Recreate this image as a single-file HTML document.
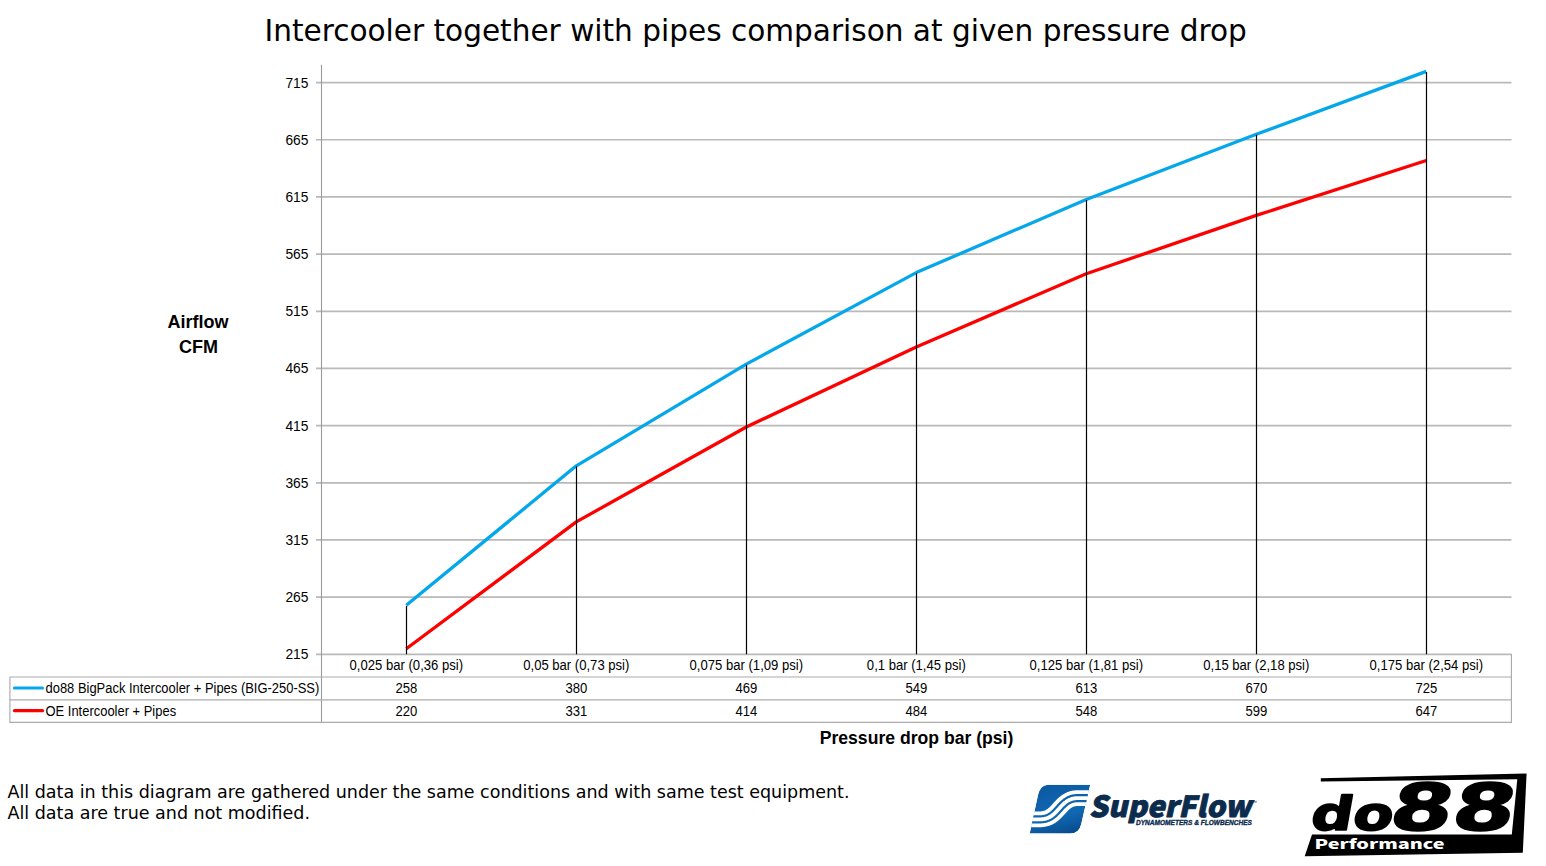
<!DOCTYPE html>
<html><head><meta charset="utf-8"><title>Intercooler comparison</title>
<style>
html,body{margin:0;padding:0;background:#fff;}
body{width:1546px;height:866px;overflow:hidden;position:relative;}
svg{position:absolute;left:0;top:0;}
.g{stroke:#b9b9b9;stroke-width:1.7;}
.ax0{stroke:#9a9a9a;stroke-width:1.1;}
.t{stroke:#ababab;stroke-width:1.15;}
.d{stroke:#000;stroke-width:1.2;}
.sb{fill:none;stroke:#04a8ea;stroke-width:3.3;stroke-linejoin:round;}
.sr{fill:none;stroke:#ff0000;stroke-width:3.3;stroke-linejoin:round;}
.yl,.c,.lg,.ax,.ax2{font-family:"Liberation Sans",Arial,sans-serif;fill:#000;}
.yl{font-size:13.8px;text-anchor:end;}
.c{font-size:13.1px;text-anchor:middle;}
.lg{font-size:12.95px;}
.title{font-family:"DejaVu Sans",Verdana,sans-serif;font-size:29.55px;fill:#000;}
.ax{font-size:18px;font-weight:bold;}
.ax2{font-size:17.6px;font-weight:bold;}
.note{font-family:"DejaVu Sans",Verdana,sans-serif;font-size:17.5px;fill:#000;}
</style></head><body>
<svg width="1546" height="866" viewBox="0 0 1546 866">
<line x1="316" x2="1511.5" y1="654.30" y2="654.30" class="g"/>
<text transform="matrix(1,0,0,1.05,308.4,659.30)" class="yl">215</text>
<line x1="316" x2="1511.5" y1="597.13" y2="597.13" class="g"/>
<text transform="matrix(1,0,0,1.05,308.4,602.13)" class="yl">265</text>
<line x1="316" x2="1511.5" y1="539.96" y2="539.96" class="g"/>
<text transform="matrix(1,0,0,1.05,308.4,544.96)" class="yl">315</text>
<line x1="316" x2="1511.5" y1="482.79" y2="482.79" class="g"/>
<text transform="matrix(1,0,0,1.05,308.4,487.79)" class="yl">365</text>
<line x1="316" x2="1511.5" y1="425.62" y2="425.62" class="g"/>
<text transform="matrix(1,0,0,1.05,308.4,430.62)" class="yl">415</text>
<line x1="316" x2="1511.5" y1="368.45" y2="368.45" class="g"/>
<text transform="matrix(1,0,0,1.05,308.4,373.45)" class="yl">465</text>
<line x1="316" x2="1511.5" y1="311.28" y2="311.28" class="g"/>
<text transform="matrix(1,0,0,1.05,308.4,316.28)" class="yl">515</text>
<line x1="316" x2="1511.5" y1="254.11" y2="254.11" class="g"/>
<text transform="matrix(1,0,0,1.05,308.4,259.11)" class="yl">565</text>
<line x1="316" x2="1511.5" y1="196.94" y2="196.94" class="g"/>
<text transform="matrix(1,0,0,1.05,308.4,201.94)" class="yl">615</text>
<line x1="316" x2="1511.5" y1="139.77" y2="139.77" class="g"/>
<text transform="matrix(1,0,0,1.05,308.4,144.77)" class="yl">665</text>
<line x1="316" x2="1511.5" y1="82.60" y2="82.60" class="g"/>
<text transform="matrix(1,0,0,1.05,308.4,87.60)" class="yl">715</text>
<line x1="321.5" x2="321.5" y1="64.8" y2="722.5" class="ax0"/>
<line x1="9.9" x2="1511.4" y1="677" y2="677" class="t"/>
<line x1="9.9" x2="1511.4" y1="699.8" y2="699.8" class="t"/>
<path d="M9.9,677 V722.4 H1511.4 V654" fill="none" class="t"/>
<polyline points="406.3,648.78 576.3,521.87 746.3,426.96 916.3,346.93 1086.3,273.75 1256.3,215.43 1426.3,160.55" class="sr"/>
<polyline points="406.3,605.33 576.3,465.84 746.3,364.08 916.3,272.60 1086.3,199.43 1256.3,134.25 1426.3,71.37" class="sb"/>
<line x1="406.5" x2="406.5" y1="605.93" y2="654.3" class="d"/>
<line x1="576.5" x2="576.5" y1="466.44" y2="654.3" class="d"/>
<line x1="746.5" x2="746.5" y1="364.68" y2="654.3" class="d"/>
<line x1="916.5" x2="916.5" y1="273.20" y2="654.3" class="d"/>
<line x1="1086.5" x2="1086.5" y1="200.03" y2="654.3" class="d"/>
<line x1="1256.5" x2="1256.5" y1="134.85" y2="654.3" class="d"/>
<line x1="1426.5" x2="1426.5" y1="71.97" y2="654.3" class="d"/>
<text transform="matrix(1,0,0,1.07,406.3,670)" class="c">0,025 bar (0,36 psi)</text>
<text transform="matrix(1,0,0,1.07,406.3,692.8)" class="c">258</text>
<text transform="matrix(1,0,0,1.07,406.3,715.6)" class="c">220</text>
<text transform="matrix(1,0,0,1.07,576.3,670)" class="c">0,05 bar (0,73 psi)</text>
<text transform="matrix(1,0,0,1.07,576.3,692.8)" class="c">380</text>
<text transform="matrix(1,0,0,1.07,576.3,715.6)" class="c">331</text>
<text transform="matrix(1,0,0,1.07,746.3,670)" class="c">0,075 bar (1,09 psi)</text>
<text transform="matrix(1,0,0,1.07,746.3,692.8)" class="c">469</text>
<text transform="matrix(1,0,0,1.07,746.3,715.6)" class="c">414</text>
<text transform="matrix(1,0,0,1.07,916.3,670)" class="c">0,1 bar (1,45 psi)</text>
<text transform="matrix(1,0,0,1.07,916.3,692.8)" class="c">549</text>
<text transform="matrix(1,0,0,1.07,916.3,715.6)" class="c">484</text>
<text transform="matrix(1,0,0,1.07,1086.3,670)" class="c">0,125 bar (1,81 psi)</text>
<text transform="matrix(1,0,0,1.07,1086.3,692.8)" class="c">613</text>
<text transform="matrix(1,0,0,1.07,1086.3,715.6)" class="c">548</text>
<text transform="matrix(1,0,0,1.07,1256.3,670)" class="c">0,15 bar (2,18 psi)</text>
<text transform="matrix(1,0,0,1.07,1256.3,692.8)" class="c">670</text>
<text transform="matrix(1,0,0,1.07,1256.3,715.6)" class="c">599</text>
<text transform="matrix(1,0,0,1.07,1426.3,670)" class="c">0,175 bar (2,54 psi)</text>
<text transform="matrix(1,0,0,1.07,1426.3,692.8)" class="c">725</text>
<text transform="matrix(1,0,0,1.07,1426.3,715.6)" class="c">647</text>
<line x1="14.5" x2="42.5" y1="688" y2="688" stroke="#04a8ea" stroke-width="3.2" stroke-linecap="round"/>
<line x1="14.5" x2="42.5" y1="710.7" y2="710.7" stroke="#ff0000" stroke-width="3.2" stroke-linecap="round"/>
<text transform="matrix(1,0,0,1.07,45.5,692.6)" class="lg">do88 BigPack Intercooler + Pipes (BIG-250-SS)</text>
<text transform="matrix(1,0,0,1.07,45.5,715.5)" class="lg">OE Intercooler + Pipes</text>
<text x="264.5" y="41" class="title">Intercooler together with pipes comparison at given pressure drop</text>
<text x="198" y="328" class="ax" text-anchor="middle">Airflow</text>
<text x="198.5" y="353" class="ax" text-anchor="middle">CFM</text>
<text x="916.5" y="744.3" class="ax2" text-anchor="middle">Pressure drop bar (psi)</text>
<text x="7.5" y="797.6" class="note">All data in this diagram are gathered under the same conditions and with same test equipment.</text>
<text x="7.5" y="818.6" class="note">All data are true and not modified.</text>
<defs>
<linearGradient id="sfg" gradientUnits="userSpaceOnUse" x1="1050" y1="784" x2="1062" y2="834">
<stop offset="0" stop-color="#0b5aa3"/>
<stop offset="0.65" stop-color="#1068b1"/>
<stop offset="1" stop-color="#0a4d90"/>
</linearGradient>
<clipPath id="sfc"><path d="M1045,784.7 L1090.2,784.7 L1081.5,823 Q1079.5,833.6 1070,833.6 L1029.7,833.6 L1038,795 Q1040.5,784.7 1048,784.7 Z"/></clipPath>
</defs>
<g id="superflow">
<g clip-path="url(#sfc)">
<path d="M1045,784.7 L1090.2,784.7 L1081.5,823 Q1079.5,833.6 1070,833.6 L1029.7,833.6 L1038,795 Q1040.5,784.7 1048,784.7 Z" fill="url(#sfg)"/>
<path d="M1017.00,819.30 L1040.00,819.30 L1040.95,819.28 L1041.87,819.23 L1042.76,819.14 L1043.61,819.02 L1044.44,818.87 L1045.25,818.69 L1046.02,818.48 L1046.78,818.24 L1047.50,817.97 L1048.21,817.68 L1048.89,817.36 L1049.55,817.03 L1050.20,816.67 L1050.82,816.29 L1051.43,815.89 L1052.02,815.47 L1052.60,815.03 L1053.16,814.58 L1053.71,814.12 L1054.25,813.64 L1054.78,813.15 L1055.30,812.66 L1055.81,812.15 L1056.31,811.63 L1056.81,811.11 L1057.30,810.58 L1057.79,810.04 L1058.27,809.51 L1058.76,808.97 L1059.24,808.43 L1059.73,807.89 L1060.21,807.36 L1060.70,806.82 L1061.19,806.29 L1061.69,805.77 L1062.19,805.25 L1062.70,804.74 L1063.22,804.25 L1063.75,803.76 L1064.29,803.28 L1064.84,802.82 L1065.40,802.37 L1065.98,801.93 L1066.57,801.51 L1067.18,801.11 L1067.80,800.73 L1068.45,800.37 L1069.11,800.04 L1069.79,799.72 L1070.50,799.43 L1071.22,799.16 L1071.98,798.92 L1072.75,798.71 L1073.56,798.53 L1074.39,798.38 L1075.24,798.26 L1076.13,798.17 L1077.05,798.12 L1078.00,798.10 L1100.00,798.10" stroke="#fff" stroke-width="15.8" fill="none"/>
<path d="M1017.00,816.30 L1040.00,816.30 L1040.83,816.28 L1041.63,816.24 L1042.40,816.16 L1043.14,816.06 L1043.84,815.93 L1044.52,815.78 L1045.17,815.60 L1045.81,815.40 L1046.42,815.17 L1047.01,814.93 L1047.58,814.67 L1048.14,814.38 L1048.69,814.08 L1049.22,813.75 L1049.74,813.41 L1050.26,813.04 L1050.76,812.66 L1051.26,812.27 L1051.75,811.85 L1052.24,811.42 L1052.72,810.97 L1053.20,810.51 L1053.67,810.04 L1054.15,809.55 L1054.62,809.05 L1055.10,808.54 L1055.57,808.03 L1056.05,807.50 L1056.52,806.97 L1057.01,806.43 L1057.50,805.88 L1057.99,805.34 L1058.49,804.79 L1059.00,804.24 L1059.52,803.69 L1060.06,803.15 L1060.60,802.60 L1061.16,802.06 L1061.73,801.53 L1062.32,801.01 L1062.93,800.50 L1063.56,800.00 L1064.21,799.51 L1064.88,799.04 L1065.57,798.58 L1066.29,798.14 L1067.03,797.73 L1067.80,797.34 L1068.59,796.97 L1069.41,796.63 L1070.25,796.32 L1071.13,796.05 L1072.03,795.80 L1072.95,795.59 L1073.91,795.42 L1074.89,795.28 L1075.90,795.18 L1076.93,795.12 L1078.00,795.10 L1100.00,795.10" stroke="url(#sfg)" stroke-width="2.2" fill="none"/>
<path d="M1017.00,822.30 L1040.00,822.30 L1041.07,822.28 L1042.10,822.22 L1043.11,822.12 L1044.09,821.98 L1045.05,821.81 L1045.97,821.60 L1046.87,821.35 L1047.75,821.08 L1048.59,820.77 L1049.41,820.43 L1050.20,820.06 L1050.97,819.67 L1051.71,819.26 L1052.43,818.82 L1053.12,818.36 L1053.79,817.89 L1054.44,817.40 L1055.07,816.90 L1055.68,816.39 L1056.27,815.87 L1056.84,815.34 L1057.40,814.80 L1057.94,814.25 L1058.48,813.71 L1059.00,813.16 L1059.51,812.61 L1060.01,812.06 L1060.50,811.52 L1060.99,810.97 L1061.48,810.43 L1061.95,809.90 L1062.43,809.37 L1062.90,808.86 L1063.38,808.35 L1063.85,807.85 L1064.33,807.36 L1064.80,806.89 L1065.28,806.43 L1065.76,805.98 L1066.25,805.55 L1066.74,805.13 L1067.24,804.74 L1067.74,804.36 L1068.26,803.99 L1068.78,803.65 L1069.31,803.32 L1069.86,803.02 L1070.42,802.73 L1070.99,802.47 L1071.58,802.23 L1072.19,802.00 L1072.83,801.80 L1073.48,801.62 L1074.16,801.47 L1074.86,801.34 L1075.60,801.24 L1076.37,801.16 L1077.17,801.12 L1078.00,801.10 L1100.00,801.10" stroke="url(#sfg)" stroke-width="2.2" fill="none"/>
</g>
<text transform="translate(1089,817) scale(1.024,1) skewX(-12)" style="font-family:'Noto Sans CJK JP',sans-serif;font-weight:900;font-size:29px;fill:#0c2c4e;stroke:#0c2c4e;stroke-width:0.9px;stroke-linejoin:round">SuperFlow</text>
<text x="1252" y="804" style="font-family:'Liberation Sans',sans-serif;font-size:5px;fill:#0c2c4e">™</text>
<text x="1136" y="825.2" textLength="116" lengthAdjust="spacingAndGlyphs" style="font-family:'Liberation Sans',sans-serif;font-weight:bold;font-style:italic;font-size:7.2px;fill:#0c2c4e;stroke:#0c2c4e;stroke-width:0.35px">DYNAMOMETERS &amp; FLOWBENCHES</text>
</g>
<g id="do88">
<path d="M1320.8,778.3 L1526.6,773.6 L1522.8,852.8 L1304.7,856.2 L1312,834.6 L1511.8,834.5 L1517.3,779.3 L1320.8,781.4 Z" fill="#000"/>
<text transform="translate(1309,830) scale(1.26,1) skewX(-8)" style="font-family:'DejaVu Sans',sans-serif;font-weight:bold;font-size:46.5px;fill:#000;stroke:#000;stroke-width:1.6px;stroke-linejoin:round">do</text>
<text transform="translate(1387,830) scale(1.39,1) skewX(-8)" style="font-family:'DejaVu Sans',sans-serif;font-weight:bold;font-size:64.5px;fill:#000;stroke:#000;stroke-width:1.6px;stroke-linejoin:round">88</text>
<text transform="translate(1314.5,849) scale(1.47,1)" style="font-family:'Noto Sans CJK JP',sans-serif;font-weight:900;font-size:13.5px;fill:#fff">Performance</text>
</g>

</svg>
</body></html>
